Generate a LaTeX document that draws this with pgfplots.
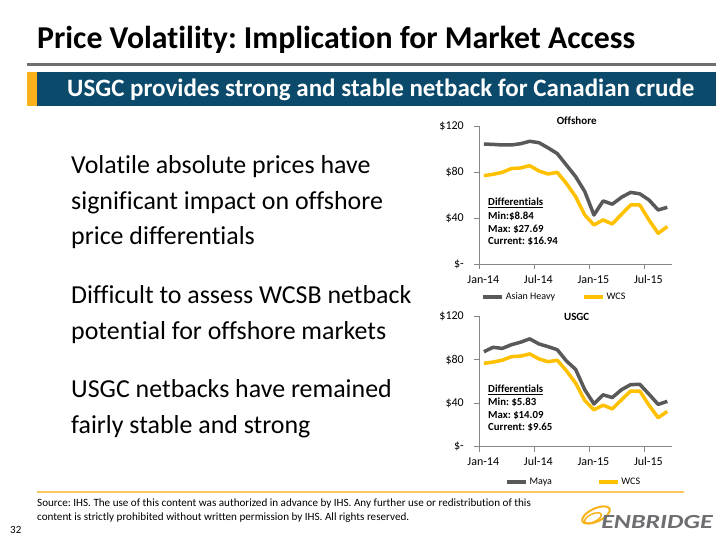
\documentclass[border=0pt]{standalone}
\usepackage{fontspec}
\setmainfont{Carlito}[Ligatures=NoCommon]
\usepackage{pgfplots}
\pgfplotsset{compat=1.18}
\usepackage{pgfplotstable}
\frenchspacing
\definecolor{darkln}{HTML}{595959}
\definecolor{goldln}{HTML}{FFC000}
\definecolor{bannerblue}{HTML}{0B4A6B}
\definecolor{bannerorange}{HTML}{F9B21B}
\definecolor{axisgray}{HTML}{868686}
\definecolor{footline}{HTML}{FCC75E}
\definecolor{logogray}{HTML}{6D6E71}
\definecolor{titleline}{HTML}{6F6F6F}

\pgfplotstableread{
i    asian  wcs   maya
0.5  104.3  76.8  87.5
1.5  104.0  78.0  91.6
2.5  103.5  79.7  90.6
3.5  103.5  83.0  94.0
4.5  104.6  83.5  96.3
5.5  106.7  85.5  99.4
6.5  105.5  80.9  94.7
7.5  101.0  78.3  92.2
8.5  96.0   79.7  89.4
9.5  86.0   70.0  79.0
10.5 76.0   58.6  71.3
11.5 63.0   42.6  52.5
12.5 42.6   34.0  39.4
13.5 54.8   38.3  47.8
14.5 52.0   34.8  45.3
15.5 58.0   43.2  52.5
16.5 62.3   51.3  57.2
17.5 61.0   51.3  57.5
18.5 55.7   38.3  48.4
19.5 47.0   26.7  39.0
20.5 49.3   32.5  41.8
}\prices

\pgfplotsset{pricechart/.style={
  scale only axis, width=192.6pt,
  xmin=0, xmax=21, ymin=0, ymax=120,
  axis x line*=bottom, axis y line*=left,
  axis line style={axisgray, line width=0.8pt},
  tick style={axisgray, line width=0.8pt},
  tick align=outside, major tick length=5pt,
  ytick={0,40,80,120}, yticklabels={\$-,\$40,\$80,\$120},
  xtick={0,6,12,18}, xticklabels={Jan-14,Jul-14,Jan-15,Jul-15},
  xticklabel style={xshift=4pt, yshift=-3pt, text height=1.6ex, text depth=0.3ex},
  yticklabel style={xshift=-7pt},
  ticklabel style={font=\fontsize{12}{14}\selectfont, text=black},
  clip=false,
  legend style={draw=none, fill=none, inner sep=0pt, font=\fontsize{10}{12}\selectfont},
  legend columns=2,
  legend image code/.code={\draw[##1, line width=3.5pt] (0pt,0pt) -- (19pt,0pt);},
}}

\begin{document}
\begin{tikzpicture}
\path[use as bounding box, fill=white] (0pt,0pt) rectangle (720pt,540pt);

% title
\node[anchor=base west, inner sep=0pt, font=\bfseries\fontsize{31.8}{35}\selectfont] at (37pt,540pt-49pt) {Price Volatility: Implication for Market Access};
\fill[titleline] (27pt,540pt-63.5pt) rectangle (716pt,540pt-66.5pt);
% banner
\fill[bannerorange] (27pt,540pt-72pt) rectangle (37pt,540pt-106pt);
\fill[bannerblue] (37pt,540pt-72pt) rectangle (716pt,540pt-106pt);
\node[anchor=base west, inner sep=0pt, text=white, font=\bfseries\fontsize{25}{28}\selectfont] at (67pt,540pt-97pt) {USGC provides strong and stable netback for Canadian crude};

% body text
\begin{scope}[every node/.style={anchor=base west, inner sep=0pt, font=\fontsize{25.9}{29}\selectfont}]
\node at (71pt,540pt-174pt) {Volatile absolute prices have};
\node at (71pt,540pt-209.5pt) {significant impact on offshore};
\node at (71pt,540pt-244.5pt) {price differentials};
\node at (71pt,540pt-304pt) {Difficult to assess WCSB netback};
\node at (71pt,540pt-340pt) {potential for offshore markets};
\node at (71pt,540pt-398pt) {USGC netbacks have remained};
\node at (71pt,540pt-434pt) {fairly stable and strong};
\end{scope}

% Offshore chart
\begin{axis}[pricechart, at={(479.3pt,276pt)}, anchor=south west, height=138pt,
  legend style={at={(0.01,-0.24)}, anchor=west, /tikz/every even column/.append style={column sep=25pt}}]
\addplot[darkln, line width=3.5pt, line join=round] table[x=i,y=asian]{\prices};
\addlegendentry{Asian Heavy}
\addplot[goldln, line width=3.5pt, line join=round] table[x=i,y=wcs]{\prices};
\addlegendentry{WCS}
\end{axis}
\node[font=\bfseries\fontsize{11}{13}\selectfont] at (576.7pt,540pt-121pt) {Offshore};
\begin{scope}[every node/.style={anchor=base west, inner sep=0pt, font=\bfseries\fontsize{10.8}{13}\selectfont}]
\node at (488pt,540pt-206pt) {\underline{Differentials}};
\node at (488pt,540pt-219.5pt) {Min:\$8.84};
\node at (488pt,540pt-232.5pt) {Max: \$27.69};
\node at (488pt,540pt-245pt) {Current: \$16.94};
\end{scope}

% USGC chart
\begin{axis}[pricechart, at={(479.3pt,93.3pt)}, anchor=south west, height=130.2pt,
  legend style={at={(0.133,-0.273)}, anchor=west, /tikz/every even column/.append style={column sep=43pt}}]
\addplot[darkln, line width=3.5pt, line join=round] table[x=i,y=maya]{\prices};
\addlegendentry{Maya}
\addplot[goldln, line width=3.5pt, line join=round] table[x=i,y=wcs]{\prices};
\addlegendentry{WCS}
\end{axis}
\node[font=\bfseries\fontsize{11}{13}\selectfont] at (576.7pt,540pt-317pt) {USGC};
\begin{scope}[every node/.style={anchor=base west, inner sep=0pt, font=\bfseries\fontsize{10.8}{13}\selectfont}]
\node at (488pt,540pt-393pt) {\underline{Differentials}};
\node at (488pt,540pt-405.5pt) {Min: \$5.83};
\node at (488pt,540pt-418.5pt) {Max: \$14.09};
\node at (488pt,540pt-431pt) {Current: \$9.65};
\end{scope}

% footer
\draw[footline, line width=1.5pt] (37pt,540pt-492pt) -- (684pt,540pt-492pt);
\node[anchor=base west, inner sep=0pt, font=\fontsize{11.1}{14}\selectfont] at (37pt,540pt-507pt) {Source: IHS. The use of this content was authorized in advance by IHS. Any further use or redistribution of this};
\node[anchor=base west, inner sep=0pt, font=\fontsize{11.1}{14}\selectfont] at (37pt,540pt-521pt) {content is strictly prohibited without written permission by IHS. All rights reserved.};
\node[anchor=base west, inner sep=0pt, font=\fontsize{11}{13}\selectfont] at (10pt,540pt-534pt) {32};

% logo
\draw[bannerorange, line width=2pt] (596pt,540pt-515pt) ellipse [x radius=15pt, y radius=6.5pt, rotate=25];
\draw[bannerorange, line width=1.5pt] (593pt,540pt-518pt) ellipse [x radius=9pt, y radius=4pt, rotate=25];
\node[anchor=base west, inner sep=0pt, text=logogray, xscale=1.3, font=\bfseries\itshape\fontsize{20}{24}\selectfont] at (601pt,540pt-529pt) {ENBRIDGE};
\end{tikzpicture}
\end{document}
